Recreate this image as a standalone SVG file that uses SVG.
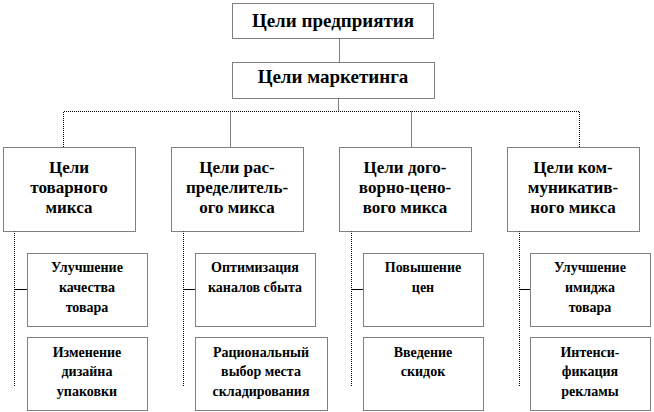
<svg xmlns="http://www.w3.org/2000/svg" width="654" height="412" viewBox="0 0 654 412">
<style>
.b{fill:#fff;stroke:#000;stroke-width:1;stroke-dasharray:1 1}
.c{fill:none;stroke:#000;stroke-width:1;stroke-dasharray:1 1}
.t{fill:none;stroke:#000;stroke-width:1}
text{font-family:"Times New Roman",Times,"Liberation Serif",serif;font-weight:700;fill:#000;text-anchor:middle}
.l{font-size:19px}
.m{font-size:17px}
.s{font-size:14px}
</style>
<rect width="654" height="412" fill="#fff"/>
<g id="connectors">
<path class="c" d="M339.5 38.5V62.5"/>
<path class="c" d="M338.5 98.5V111.5"/>
<path class="c" d="M63.5 147V111.5H579.5V147"/>
<path class="c" d="M230.5 111.5V147"/>
<path class="c" d="M411.5 111.5V147"/>
<path class="c" d="M14.5 231V386"/>
<path class="c" d="M183.5 231V386"/>
<path class="c" d="M351.5 231V386"/>
<path class="c" d="M519.5 231V386"/>
<path class="t" d="M14.5 289.5H27M183.5 289.5H195M351.5 289.5H363M519.5 289.5H530"/>
</g>
<g id="n-enterprise"><rect class="b" x="232.5" y="3.5" width="201" height="35"/><text class="l" x="333" y="27">Цели предприятия</text></g>
<g id="n-marketing"><rect class="b" x="232.5" y="62.5" width="202" height="36"/><text class="l" x="333" y="83">Цели маркетинга</text></g>
<g id="n-product"><rect class="b" x="3.5" y="147.5" width="132" height="84"/><text class="m" x="69" y="173">Цели</text><text class="m" x="69" y="193">товарного</text><text class="m" x="69" y="213">микса</text></g>
<g id="n-distribution"><rect class="b" x="171.5" y="147.5" width="132" height="84"/><text class="m" x="237" y="173">Цели рас-</text><text class="m" x="237" y="193">пределитель-</text><text class="m" x="237" y="213">ого микса</text></g>
<g id="n-price"><rect class="b" x="339.5" y="147.5" width="132" height="84"/><text class="m" x="405" y="173">Цели дого-</text><text class="m" x="405" y="193">ворно-цено-</text><text class="m" x="405" y="213">вого микса</text></g>
<g id="n-communication"><rect class="b" x="507.5" y="147.5" width="132" height="84"/><text class="m" x="573" y="173">Цели ком-</text><text class="m" x="573" y="193">муникатив-</text><text class="m" x="573" y="213">ного микса</text></g>
<g id="n-quality"><rect class="b" x="27.5" y="253.5" width="120" height="73"/><text class="s" x="87" y="272">Улучшение</text><text class="s" x="87" y="292">качества</text><text class="s" x="87" y="312">товара</text></g>
<g id="n-design"><rect class="b" x="27.5" y="337.5" width="120" height="73"/><text class="s" x="87" y="357">Изменение</text><text class="s" x="87" y="376">дизайна</text><text class="s" x="87" y="396">упаковки</text></g>
<g id="n-channels"><rect class="b" x="195.5" y="253.5" width="120" height="73"/><text class="s" x="255" y="272">Оптимизация</text><text class="s" x="255" y="292">каналов сбыта</text></g>
<g id="n-storage"><rect class="b" x="195.5" y="337.5" width="132" height="73"/><text class="s" x="261" y="357">Рациональный</text><text class="s" x="261" y="376">выбор места</text><text class="s" x="261" y="396">складирования</text></g>
<g id="n-prices"><rect class="b" x="363.5" y="253.5" width="120" height="73"/><text class="s" x="423" y="272">Повышение</text><text class="s" x="423" y="292">цен</text></g>
<g id="n-discounts"><rect class="b" x="363.5" y="337.5" width="120" height="73"/><text class="s" x="423" y="357">Введение</text><text class="s" x="423" y="376">скидок</text></g>
<g id="n-image"><rect class="b" x="530.5" y="253.5" width="120" height="73"/><text class="s" x="590" y="272">Улучшение</text><text class="s" x="590" y="292">имиджа</text><text class="s" x="590" y="312">товара</text></g>
<g id="n-ads"><rect class="b" x="530.5" y="337.5" width="120" height="73"/><text class="s" x="590" y="357">Интенси-</text><text class="s" x="590" y="376">фикация</text><text class="s" x="590" y="396">рекламы</text></g>
</svg>
